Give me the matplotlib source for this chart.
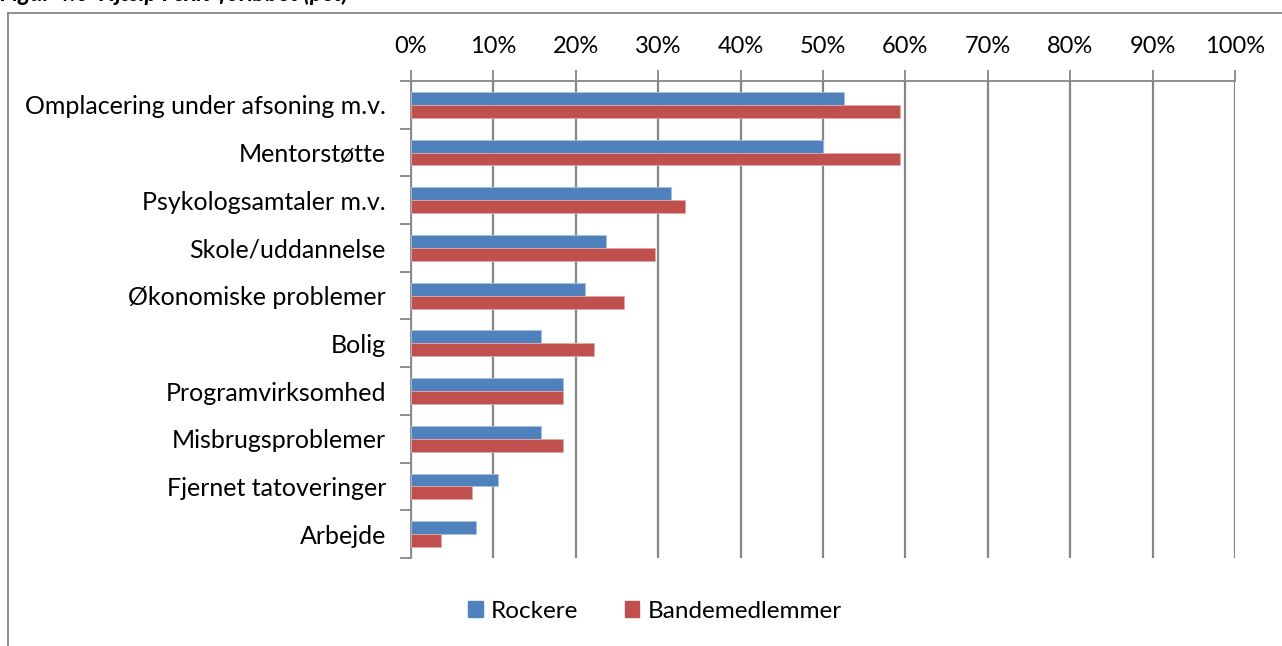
import matplotlib
matplotlib.use("Agg")
import matplotlib.pyplot as plt
from matplotlib.lines import Line2D
from matplotlib.patches import Patch
import numpy as np

# data (pct)
kategorier = ["Omplacering under afsoning m.v.", "Mentorstøtte", "Psykologsamtaler m.v.",
              "Skole/uddannelse", "Økonomiske problemer", "Bolig", "Programvirksomhed",
              "Misbrugsproblemer", "Fjernet tatoveringer", "Arbejde"]
rockere = [52.6, 50.0, 31.6, 23.7, 21.1, 15.8, 18.4, 15.8, 10.5, 7.9]
bandemedlemmer = [59.3, 59.3, 33.3, 29.6, 25.9, 22.2, 18.5, 18.5, 7.4, 3.7]
x_ticks = [0, 10, 20, 30, 40, 50, 60, 70, 80, 90, 100]

blaa = "#4F81BD"
roed = "#C0504D"
graa = "#868686"

plt.rcParams['font.family'] = ['Lato', 'DejaVu Sans']

W, H = 1282, 646
fig = plt.figure(figsize=(W / 100, H / 100), dpi=100)
ax = fig.add_axes([411 / W, 1 - 558 / H, (1235 - 411) / W, (558 - 81) / H])

y = np.arange(len(kategorier))
h = 0.27
ax.barh(y - h / 2, rockere, height=h, color=blaa, edgecolor="#a9c0dd", linewidth=0.6, label="Rockere", zorder=3)
ax.barh(y + h / 2, bandemedlemmer, height=h, color=roed, edgecolor="#e0a9a8", linewidth=0.6, label="Bandemedlemmer", zorder=3)

ax.set_xlim(0, 100)
ax.set_ylim(len(kategorier) - 0.5, -0.5)

ax.xaxis.tick_top()
ax.set_xticks(x_ticks)
ax.set_xticklabels([f"{v}%" for v in x_ticks], fontsize=17)
ax.tick_params(axis="x", length=8, width=1.3, color=graa, pad=9)
ax.grid(axis="x", color=graa, linewidth=1.6, zorder=0)

ax.set_yticks(y)
ax.set_yticklabels(kategorier, fontsize=18)
ax.set_yticks(np.arange(len(kategorier) + 1) - 0.5, minor=True)
ax.tick_params(axis="y", which="major", length=0, pad=18)
ax.tick_params(axis="y", which="minor", length=8, width=1.3, color=graa)

for s in ["right", "bottom"]:
    ax.spines[s].set_visible(False)
for s in ["left", "top"]:
    ax.spines[s].set_color(graa)
    ax.spines[s].set_linewidth(1.3)

# legend
handles = [Patch(color=blaa, label="Rockere"), Patch(color=roed, label="Bandemedlemmer")]
fig.legend(handles=handles, loc="center", bbox_to_anchor=(655 / W, 1 - 611 / H), ncol=2,
           frameon=False, fontsize=17.5, handlelength=0.6, handleheight=0.6,
           handletextpad=0.35, columnspacing=1.9)

# outer frame of the chart area
fig.add_artist(Line2D([8 / W, 8 / W], [0, 1 - 13 / H], color=graa, linewidth=1.3))
fig.add_artist(Line2D([8 / W, 1], [1 - 13 / H, 1 - 13 / H], color=graa, linewidth=1.3))

# title, mostly cut off at the top edge (as in the reference)
fig.text(0.0, 1 - 1 / H, "Figur 4.6  Hjælp i exit-forløbet (pct)",
         fontsize=17, style="italic", fontweight="bold", va="baseline", ha="left")

fig.savefig("out.png", dpi=100)
